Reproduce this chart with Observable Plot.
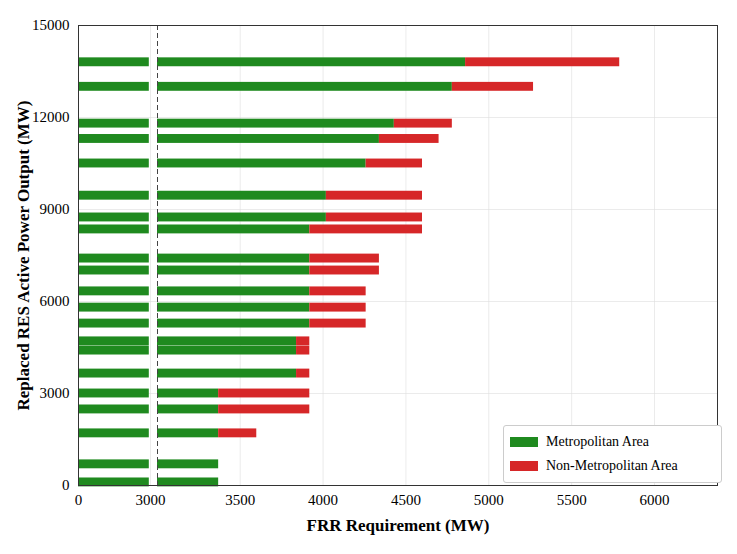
<!DOCTYPE html>
<html><head><meta charset="utf-8">
<script src="https://cdn.jsdelivr.net/npm/d3@7"></script>
<script src="https://cdn.jsdelivr.net/npm/@observablehq/plot@0.6"></script>
<style>
body{margin:0;background:#fff;font-family:"Liberation Serif",serif}
#wrap{position:relative;width:737px;height:554px}
#legend{position:absolute;left:503px;top:425px;width:205px;border:1px solid #ccc;border-radius:3px;background:#fff;font-size:14px;padding:4px 6px}
#legend div{display:flex;align-items:center;height:24px}
#legend span{display:inline-block;width:28px;height:10px;margin-right:8px}
</style></head><body>
<div id="wrap"><div id="chart"></div>
<div id="legend"><div><span style="background:#1f8a1f"></span>Metropolitan Area</div><div><span style="background:#d62728"></span>Non-Metropolitan Area</div></div></div>
<script>
const yPos=[13800,13000,11800,11300,10500,9450,8740,8350,7400,7010,6330,5800,5280,4700,4400,3650,3000,2480,1700,690,100];
const metro=[4860,4780,4430,4340,4260,4020,4020,3920,3920,3920,3920,3920,3920,3840,3840,3840,3370,3370,3370,3370,3370];
const total=[5790,5270,4780,4700,4600,4600,4600,4600,4340,4340,4260,4260,4260,3920,3920,3920,3920,3920,3600,3370,3370];
const xTicks=[0,3000,3500,4000,4500,5000,5500,6000];
const yTicks=[0,3000,6000,9000,12000,15000];
const half=145;
// broken axis: left segment 0–3000, right segment 3000–6380
const brk=d3.scaleLinear().domain([0,3000,3001,6380]).range([0,72,79,639]);
const rows=yPos.map((y,i)=>({y,m:metro[i],t:total[i]}));
const G="#1f8a1f",R="#d62728";
const plot=Plot.plot({
  width:737,height:554,marginLeft:78,marginRight:20,marginTop:25,marginBottom:69,
  style:{fontFamily:"Liberation Serif",fontSize:"15px"},
  x:{domain:[0,639],ticks:xTicks.map(v=>brk(v)),tickFormat:(d,i)=>String(xTicks[i]),label:"FRR Requirement (MW)",labelAnchor:"center",labelOffset:45,labelArrow:false,tickSize:0},
  y:{domain:[0,15000],ticks:yTicks,tickFormat:d=>String(d),label:"Replaced RES Active Power Output (MW)",labelAnchor:"center",labelOffset:62,labelArrow:false,tickSize:0},
  marks:[
    Plot.gridX(xTicks.map(v=>brk(v)),{stroke:"#ddd",strokeOpacity:1,strokeWidth:0.6}),
    Plot.gridY(yTicks,{stroke:"#ddd",strokeOpacity:1,strokeWidth:0.6}),
    Plot.rect(rows,{x1:brk(0),x2:brk(2950),y1:d=>d.y-half,y2:d=>d.y+half,fill:G}),
    Plot.rect(rows,{x1:brk(3001),x2:d=>brk(d.m),y1:d=>d.y-half,y2:d=>d.y+half,fill:G}),
    Plot.rect(rows,{x1:d=>brk(d.m),x2:d=>brk(d.t),y1:d=>d.y-half,y2:d=>d.y+half,fill:R}),
    Plot.ruleX([brk(3001)],{stroke:"#444",strokeDasharray:"5,3",strokeWidth:1}),
    Plot.frame({stroke:"#333"})
  ]
});
plot.querySelectorAll("[aria-label$='axis label'] text").forEach(t=>{t.style.fontWeight="bold";t.style.fontSize="17px"});
document.getElementById("chart").append(plot);
</script></body></html>
